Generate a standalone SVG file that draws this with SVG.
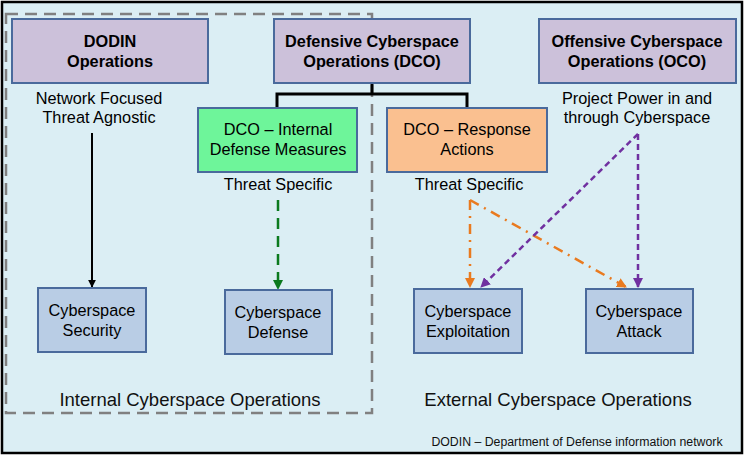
<svg xmlns="http://www.w3.org/2000/svg" width="744" height="457" viewBox="0 0 744 457">
<defs>
<style>
.t{font-family:"Liberation Sans",Arial,sans-serif;font-size:16.3px;fill:#000;text-anchor:middle}
.b{font-weight:bold}
.box{stroke:#4a6a9c;stroke-width:2}
.top{fill:#ccc1da}
.leaf{fill:#b9cde5}
.lbl{font-family:"Liberation Sans",Arial,sans-serif;font-size:18.5px;fill:#111;text-anchor:middle}
</style>
<marker id="ak" viewBox="0 0 10 10" refX="9" refY="5" markerWidth="4" markerHeight="4" orient="auto" markerUnits="strokeWidth"><path d="M0,0L10,5L0,10z" fill="#000"/></marker>
<marker id="ag" viewBox="0 0 10 10" refX="9" refY="5" markerWidth="4" markerHeight="4" orient="auto" markerUnits="strokeWidth"><path d="M0,0L10,5L0,10z" fill="#0a7a1e"/></marker>
<marker id="ao" viewBox="0 0 10 10" refX="9" refY="5" markerWidth="4" markerHeight="4" orient="auto" markerUnits="strokeWidth"><path d="M0,0L10,5L0,10z" fill="#e97a1f"/></marker>
<marker id="ap" viewBox="0 0 10 10" refX="9" refY="5" markerWidth="4" markerHeight="4" orient="auto" markerUnits="strokeWidth"><path d="M0,0L10,5L0,10z" fill="#7030a0"/></marker>
</defs>
<rect x="2" y="2" width="740" height="451" fill="#dbeef4" stroke="#000" stroke-width="2.5"/>
<rect x="6" y="14" width="366" height="399" fill="none" stroke="#808080" stroke-width="2.5" stroke-dasharray="12 7"/>

<g id="connectors" fill="none">
<path d="M372,83V94H277V108M372,94H467V108" stroke="#000" stroke-width="3"/>
<path d="M92,133V287" stroke="#000" stroke-width="2" marker-end="url(#ak)"/>
<path d="M278,200V289" stroke="#0a7a1e" stroke-width="2.5" stroke-dasharray="11 7" marker-end="url(#ag)"/>
<path d="M470,200V287" stroke="#e97a1f" stroke-width="2.5" stroke-dasharray="10 6 2 6" marker-end="url(#ao)"/>
<path d="M470,200L626,287" stroke="#e97a1f" stroke-width="2.5" stroke-dasharray="10 6 2 6" marker-end="url(#ao)"/>
<path d="M638,134V287" stroke="#7030a0" stroke-width="2.5" stroke-dasharray="6 4" marker-end="url(#ap)"/>
<path d="M638,134L481,287" stroke="#7030a0" stroke-width="2.5" stroke-dasharray="6 4" marker-end="url(#ap)"/>
</g>

<g id="dodin">
<rect class="box top" x="12" y="19" width="196" height="64"/>
<text class="t b" x="110" y="47">DODIN</text>
<text class="t b" x="110" y="67">Operations</text>
<text class="t" x="99" y="104">Network Focused</text>
<text class="t" x="99" y="123">Threat Agnostic</text>
</g>
<g id="dco">
<rect class="box top" x="274" y="19" width="196" height="64"/>
<text class="t b" x="372" y="47">Defensive Cyberspace</text>
<text class="t b" x="372" y="67">Operations (DCO)</text>
</g>
<g id="oco">
<rect class="box top" x="539" y="19" width="197" height="64"/>
<text class="t b" x="637" y="47">Offensive Cyberspace</text>
<text class="t b" x="637" y="67">Operations (OCO)</text>
<text class="t" x="637" y="104">Project Power in and</text>
<text class="t" x="637" y="123">through Cyberspace</text>
</g>
<g id="dco-idm">
<rect class="box" fill="#6ef59a" x="198" y="108" width="159" height="64"/>
<text class="t" x="278" y="135">DCO – Internal</text>
<text class="t" x="278" y="155">Defense Measures</text>
<text class="t" x="278" y="190">Threat Specific</text>
</g>
<g id="dco-ra">
<rect class="box" fill="#fac090" x="387" y="108" width="160" height="64"/>
<text class="t" x="467" y="135">DCO – Response</text>
<text class="t" x="467" y="155">Actions</text>
<text class="t" x="469" y="190">Threat Specific</text>
</g>
<g id="security">
<rect class="box leaf" x="38" y="288" width="108" height="64"/>
<text class="t" x="92" y="316">Cyberspace</text>
<text class="t" x="92" y="336">Security</text>
</g>
<g id="defense">
<rect class="box leaf" x="225" y="290" width="107" height="64"/>
<text class="t" x="278" y="318">Cyberspace</text>
<text class="t" x="278" y="338">Defense</text>
</g>
<g id="exploitation">
<rect class="box leaf" x="414" y="289" width="108" height="64"/>
<text class="t" x="468" y="317">Cyberspace</text>
<text class="t" x="468" y="337">Exploitation</text>
</g>
<g id="attack">
<rect class="box leaf" x="586" y="289" width="107" height="64"/>
<text class="t" x="639" y="317">Cyberspace</text>
<text class="t" x="639" y="337">Attack</text>
</g>
<text class="lbl" x="190" y="406">Internal Cyberspace Operations</text>
<text class="lbl" x="558" y="406">External Cyberspace Operations</text>
<text x="577" y="446" font-family="'Liberation Sans',Arial,sans-serif" font-size="12.3" fill="#111" text-anchor="middle">DODIN – Department of Defense information network</text>
</svg>
